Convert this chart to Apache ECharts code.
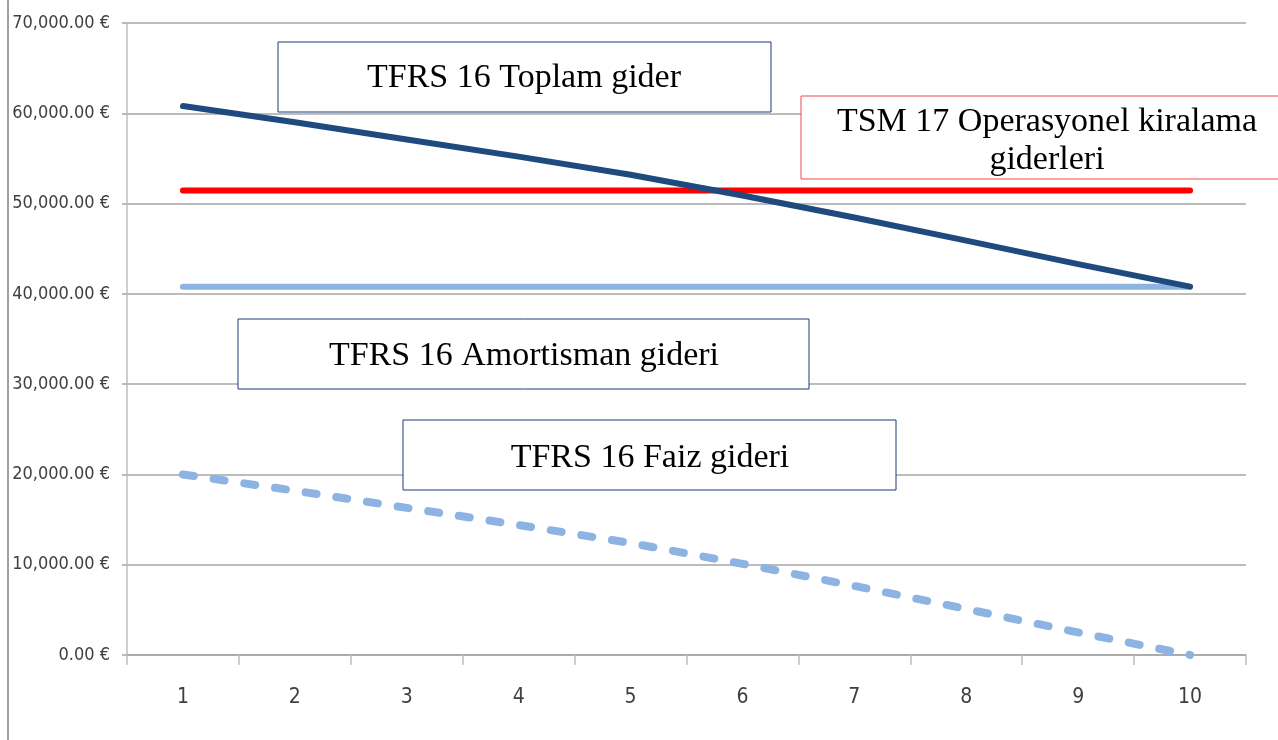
<!DOCTYPE html>
<html>
<head>
<meta charset="utf-8">
<script src="https://cdn.jsdelivr.net/npm/echarts@6/dist/echarts.min.js"></script>
<style>
html,body{margin:0;padding:0;background:#fff;}
#c{width:1278px;height:740px;}
</style>
</head>
<body>
<div id="c"></div>
<script>
// ---- data ----
const categories = ['1','2','3','4','5','6','7','8','9','10'];
const toplamGider = [60800, 59000, 57100, 55200, 53200, 50900, 48450, 45900, 43300, 40800];
const tsm17Kiralama = [51450, 51450, 51450, 51450, 51450, 51450, 51450, 51450, 51450, 51450];
const amortismanGideri = [40800, 40800, 40800, 40800, 40800, 40800, 40800, 40800, 40800, 40800];
const faizGideri = [20000, 18200, 16300, 14400, 12400, 10100, 7650, 5100, 2500, 0];
const yTicks = [0, 10000, 20000, 30000, 40000, 50000, 60000, 70000];
const boxLabels = ['TFRS 16 Toplam gider', 'TSM 17 Operasyonel kiralama\ngiderleri', 'TFRS 16 Amortisman gideri', 'TFRS 16 Faiz gideri'];

const chart = echarts.init(document.getElementById('c'), null, {renderer:'canvas'});
const labelFont = "'Liberation Sans Narrow','DejaVu Sans Condensed','Open Sans',sans-serif";
const serif = "'Liberation Serif','DejaVu Serif',serif";
const grayGrid = '#A6A6A6';

function box(x, y, w, h, stroke, text, tx, ty) {
  return [
    {type:'rect', z:100, shape:{x:x, y:y, width:w, height:h},
     style:{fill:'#ffffff', stroke:stroke, lineWidth:1}},
    {type:'text', z:101, style:{x:tx, y:ty, text:text, fill:'#000', align:'center', verticalAlign:'middle',
     font:"34px " + serif, lineHeight:38}}
  ];
}

chart.setOption({
  animation:false,
  backgroundColor:'#ffffff',
  grid:{left:127, right:32, top:23, bottom:85, containLabel:false},
  xAxis:{
    type:'category', data:categories, boundaryGap:true,
    axisLine:{show:true, lineStyle:{color:grayGrid, width:1.5}},
    axisTick:{show:true, length:10, lineStyle:{color:'#BFBFBF', width:1.5}},
    axisLabel:{color:'#404040', fontFamily:labelFont, fontSize:21, margin:32},
    splitLine:{show:false}
  },
  yAxis:{
    type:'value', min:yTicks[0], max:yTicks[yTicks.length-1], interval:10000,
    axisLine:{show:true, lineStyle:{color:'#BFBFBF', width:1.5}},
    axisTick:{show:true, length:5, lineStyle:{color:grayGrid, width:1.5}},
    axisLabel:{color:'#404040', fontFamily:labelFont, fontSize:18, margin:17,
      formatter:function(v){return v.toLocaleString('en-US',{minimumFractionDigits:2, maximumFractionDigits:2}) + ' €';}},
    splitLine:{show:true, lineStyle:{color:grayGrid, width:1.5}}
  },
  series:[
    {name:'TFRS 16 Faiz gideri', type:'line', data:faizGideri, showSymbol:false, z:2,
     lineStyle:{color:'#8DB3E2', width:8, type:[11,20], cap:'round', join:'round'}},
    {name:'TFRS 16 Amortisman gideri', type:'line', data:amortismanGideri, showSymbol:false, z:3,
     lineStyle:{color:'#8DB3E2', width:6, cap:'round'}},
    {name:'TSM 17 Operasyonel kiralama giderleri', type:'line', data:tsm17Kiralama, showSymbol:false, z:4,
     lineStyle:{color:'#FF0000', width:6, cap:'round'}},
    {name:'TFRS 16 Toplam gider', type:'line', data:toplamGider, showSymbol:false, z:5,
     lineStyle:{color:'#1F4A7E', width:6, cap:'round', join:'round'}}
  ],
  graphic:[
    {type:'line', shape:{x1:8, y1:0, x2:8, y2:740}, style:{stroke:'#A0A0A0', lineWidth:2}},
    ...box(278, 42, 493, 70, '#1F3A78', boxLabels[0], 524, 78),
    ...box(801, 96, 490, 83, '#F04848', boxLabels[1], 1047, 141),
    ...box(238, 319, 571, 70, '#1F3A78', boxLabels[2], 524, 356),
    ...box(403, 420, 493, 70, '#1F3A78', boxLabels[3], 650, 458)
  ]
});
</script>
</body>
</html>
